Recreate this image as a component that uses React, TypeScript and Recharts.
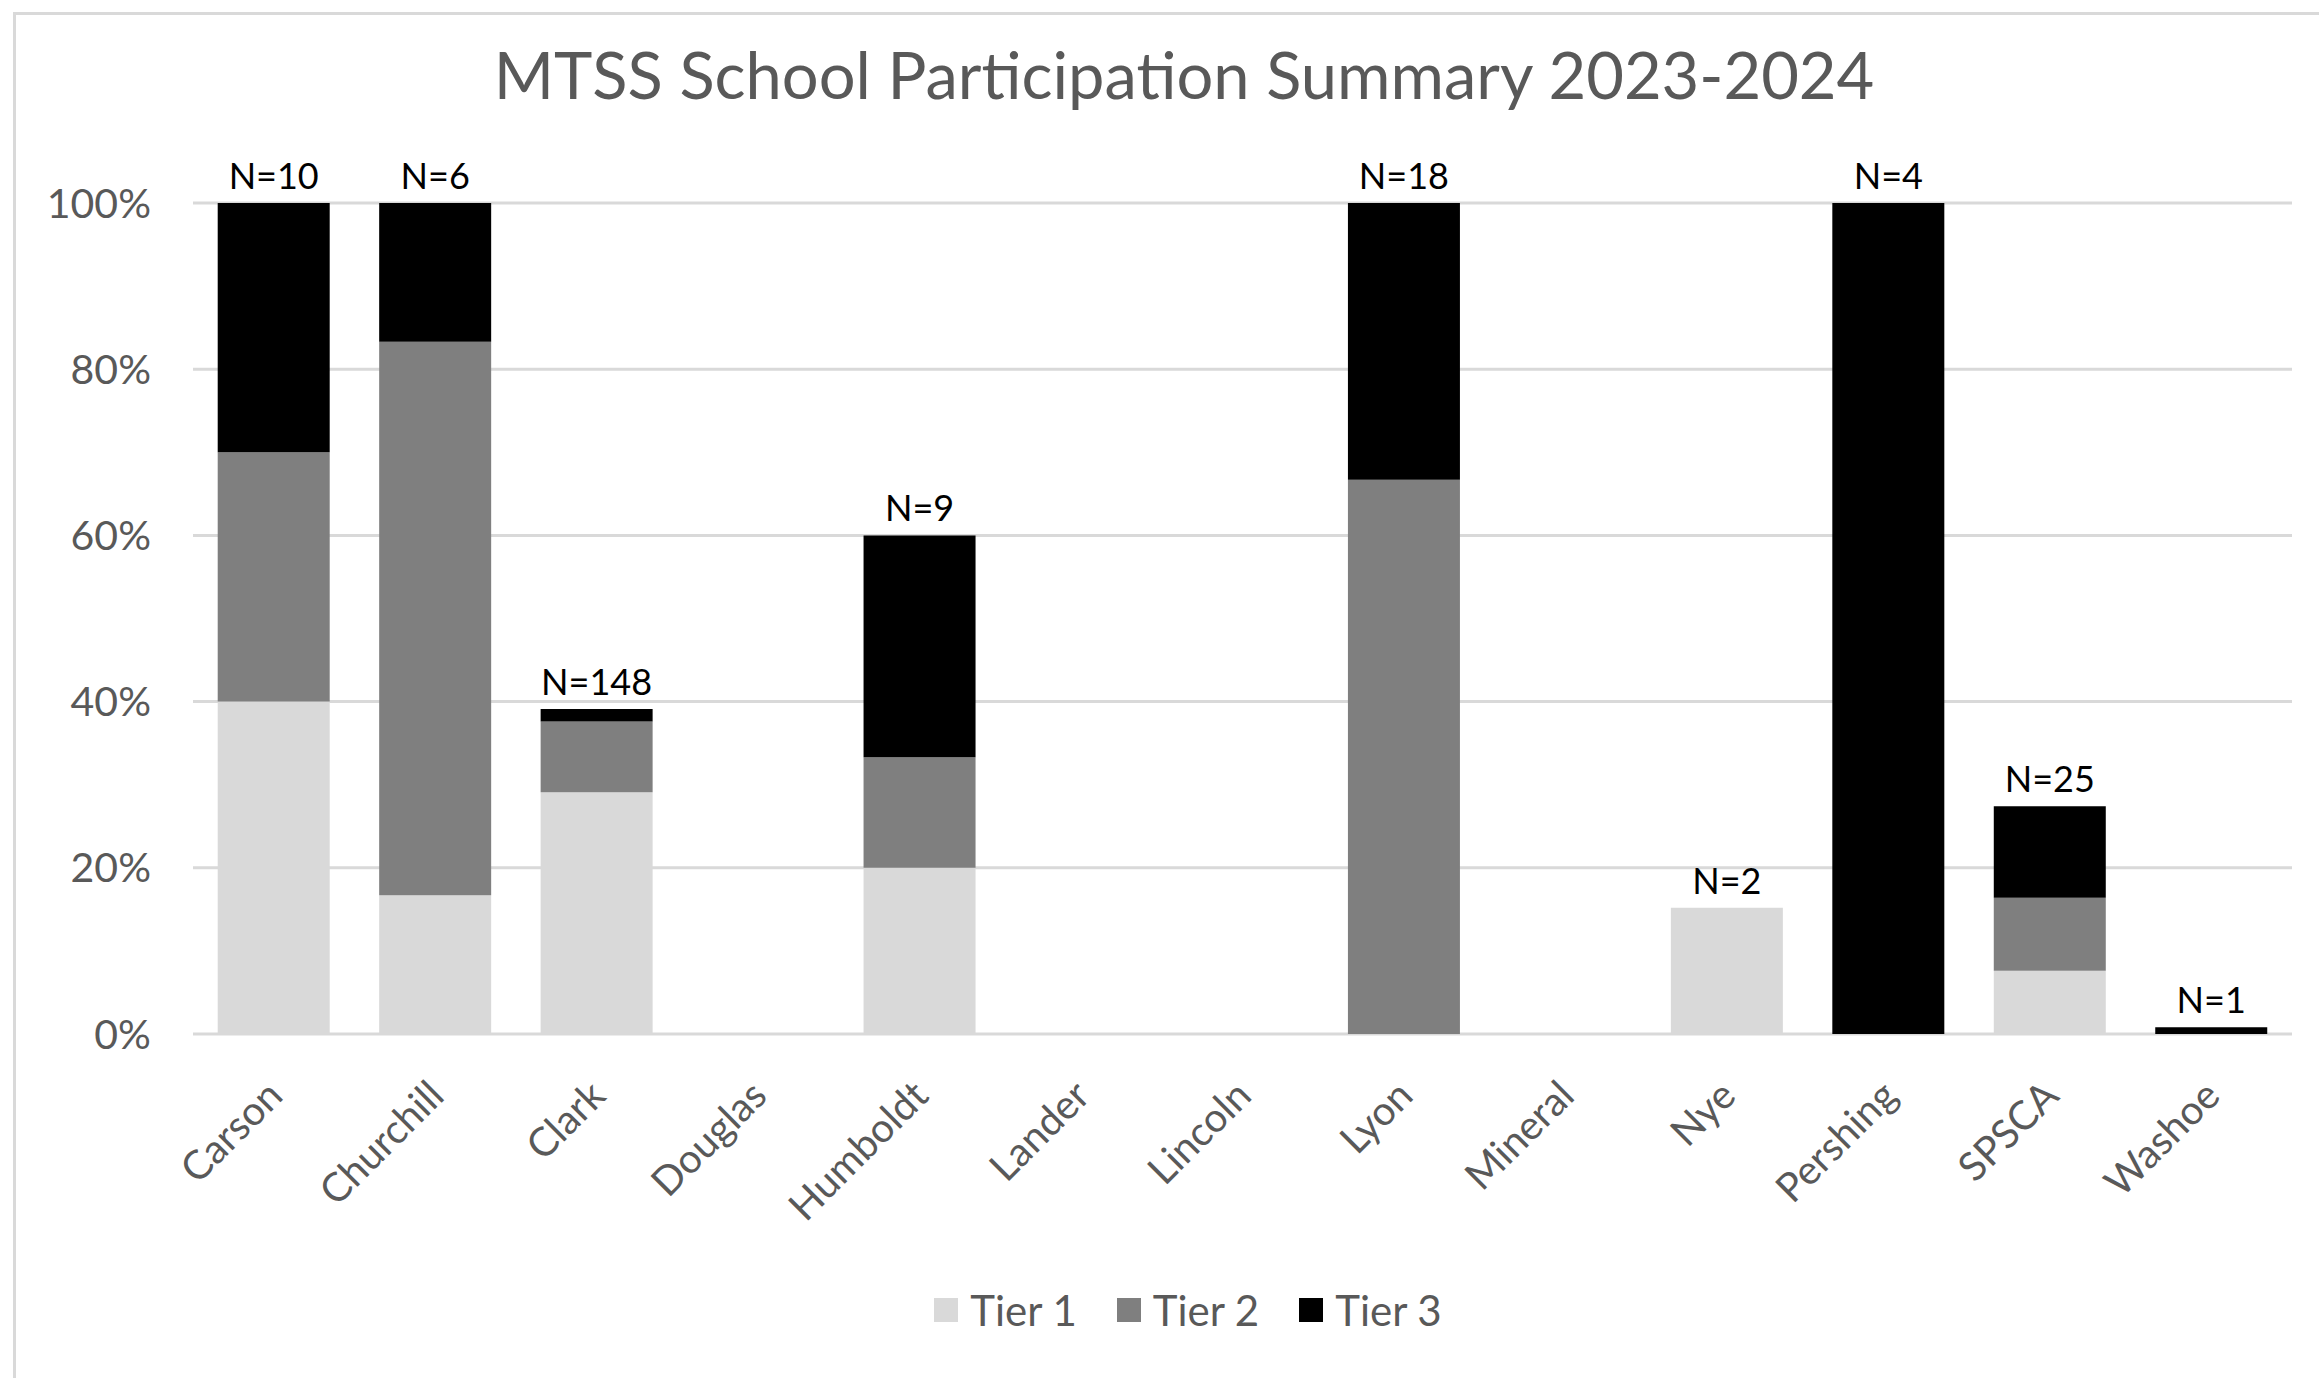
import { BarChart, Bar, XAxis, YAxis, CartesianGrid, Legend, LabelList } from "recharts";

// districts along the x axis
const districts = [
  "Carson", "Churchill", "Clark", "Douglas", "Humboldt", "Lander", "Lincoln",
  "Lyon", "Mineral", "Nye", "Pershing", "SPSCA", "Washoe",
];

// share of schools per tier (%)
const tier1 = [40, 16.7, 29.1, 0, 20, 0, 0, 0, 0, 15.2, 0, 7.6, 0];
const tier2 = [30, 66.6, 8.5, 0, 13.3, 0, 0, 66.7, 0, 0, 0, 8.8, 0];
const tier3 = [30, 16.7, 1.5, 0, 26.7, 0, 0, 33.3, 0, 0, 100, 11.0, 0.8];

// school counts shown above each bar
const nLabels = ["N=10", "N=6", "N=148", "", "N=9", "", "", "N=18", "", "N=2", "N=4", "N=25", "N=1"];

const yTicks = [0, 20, 40, 60, 80, 100];

const SERIES = [
  { key: "tier1", name: "Tier 1", color: "#d9d9d9" },
  { key: "tier2", name: "Tier 2", color: "#7f7f7f" },
  { key: "tier3", name: "Tier 3", color: "#000000" },
];

const values: Record<string, number[]> = { tier1, tier2, tier3 };

// each row carries the N label only on the top visible segment of its stack
const data = districts.map((district, i) => {
  const row: Record<string, any> = { district };
  let top = "";
  SERIES.forEach((s) => {
    row[s.key] = values[s.key][i];
    if (values[s.key][i] > 0) top = s.key;
  });
  SERIES.forEach((s) => {
    row[`n_${s.key}`] = s.key === top ? nLabels[i] : "";
  });
  return row;
});

const FONT = "Lato, 'Open Sans', sans-serif";
const GREY_TEXT = "#595959";

function DistrictTick({ x, y, payload }: any) {
  const ax = x + 11;
  const ay = y + 64;
  return (
    <text
      x={ax}
      y={ay}
      textAnchor="end"
      fontSize={40}
      fill={GREY_TEXT}
      fontFamily={FONT}
      transform={`rotate(-45, ${ax}, ${ay})`}
    >
      {payload.value}
    </text>
  );
}

function CountLabel({ x, y, width, value }: any) {
  if (!value) return null;
  return (
    <text x={x + width / 2} y={y - 14} textAnchor="middle" fontSize={36} fill="#000" fontFamily={FONT}>
      {value}
    </text>
  );
}

function LegendBox() {
  return (
    <div style={{ display: "flex", justifyContent: "center", alignItems: "center", height: 80, fontFamily: FONT }}>
      {SERIES.map((s, i) => (
        <div key={s.key} style={{ display: "flex", alignItems: "center", marginLeft: i === 0 ? 0 : 40 }}>
          <span style={{ width: 24, height: 24, background: s.color, display: "inline-block", marginRight: 12 }} />
          <span style={{ fontSize: 42, color: GREY_TEXT }}>{s.name}</span>
        </div>
      ))}
    </div>
  );
}

export default function App() {
  return (
    <div
      style={{
        position: "absolute",
        left: 0,
        top: 0,
        width: 2319,
        height: 1378,
        background: "#fff",
        overflow: "hidden",
        fontFamily: FONT,
      }}
    >
      <div
        style={{
          position: "absolute",
          left: 13,
          top: 12,
          width: 2400,
          height: 1500,
          border: "3px solid #d9d9d9",
          boxSizing: "border-box",
        }}
      />
      <div style={{ position: "absolute", left: 0, top: 0 }}>
        <BarChart
          width={2319}
          height={1378}
          data={data}
          margin={{ top: 203, right: 27, bottom: 28, left: 0 }}
          barCategoryGap="15.3%"
        >
          <CartesianGrid vertical={false} stroke="#d9d9d9" strokeWidth={3} />
          <XAxis
            dataKey="district"
            interval={0}
            height={236}
            axisLine={false}
            tickLine={false}
            tickSize={0}
            tickMargin={0}
            tick={<DistrictTick />}
          />
          <YAxis
            width={193}
            domain={[0, 100]}
            ticks={yTicks}
            axisLine={false}
            tickLine={false}
            tickSize={0}
            tickMargin={42}
            tickFormatter={(v: number) => `${v}%`}
            tick={{ fontSize: 41, fill: GREY_TEXT, fontFamily: FONT }}
          />
          <Legend verticalAlign="bottom" wrapperStyle={{ left: 42, width: 2292, height: 80 }} content={<LegendBox />} />
          {SERIES.map((s) => (
            <Bar key={s.key} dataKey={s.key} name={s.name} stackId="tiers" fill={s.color} isAnimationActive={false}>
              <LabelList dataKey={`n_${s.key}`} content={<CountLabel />} />
            </Bar>
          ))}
        </BarChart>
      </div>
      <svg style={{ position: "absolute", left: 0, top: 0 }} width={2319} height={140}>
        <text x={1184} y={99} textAnchor="middle" fontSize={65} fill={GREY_TEXT} fontFamily={FONT}>
          MTSS School Participation Summary 2023-2024
        </text>
      </svg>
    </div>
  );
}
